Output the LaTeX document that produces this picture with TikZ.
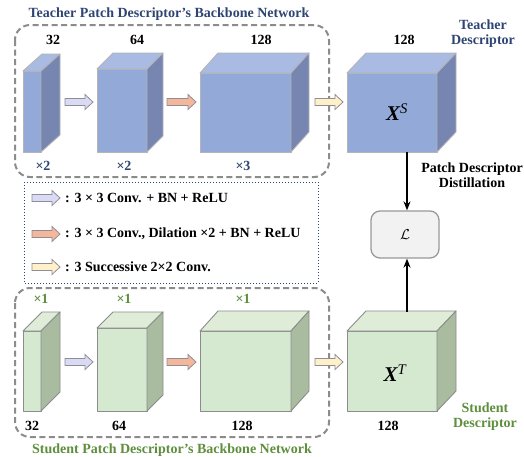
\documentclass[tikz,border=0pt]{standalone}
\usepackage{fontspec}
\setmainfont{Liberation Serif}
\usetikzlibrary{arrows.meta}
\definecolor{tblue}{HTML}{2E4573}
\definecolor{sgreen}{HTML}{5E8F3C}
\definecolor{tfront}{HTML}{93A9D8}
\definecolor{ttop}{HTML}{A9BBE2}
\definecolor{tside}{HTML}{7686B0}
\definecolor{tedge}{HTML}{B4B4B8}
\definecolor{sfront}{HTML}{D5E8D0}
\definecolor{stop}{HTML}{DEECD8}
\definecolor{sside}{HTML}{A9BCA0}
\definecolor{sedge}{HTML}{8C8C8C}
\definecolor{arrA}{HTML}{DADAF5}
\definecolor{arrB}{HTML}{F4B79C}
\definecolor{arrC}{HTML}{FFF0CA}
\definecolor{arrEdge}{HTML}{8E8E96}
\tikzset{
  tfrontsty/.style={fill=tfront,draw=tedge,line width=0.9pt,line join=round},
  ttopsty/.style={fill=ttop,draw=tedge,line width=0.9pt,line join=round},
  tsidesty/.style={fill=tside,draw=tedge,line width=0.9pt,line join=round},
  sfrontsty/.style={fill=sfront,draw=sedge,line width=0.9pt,line join=round},
  stopsty/.style={fill=stop,draw=sedge,line width=0.9pt,line join=round},
  ssidesty/.style={fill=sside,draw=sedge,line width=0.9pt,line join=round},
  arrowA/.style={fill=arrA,draw=arrEdge,line width=0.8pt},
  arrowB/.style={fill=arrB,draw=arrEdge,line width=0.8pt},
  arrowC/.style={fill=arrC,draw=arrEdge,line width=0.8pt},
  lbl/.style={font=\fontsize{14}{16}\selectfont\bfseries, inner sep=0pt},
  tlbl/.style={lbl, text=tblue},
  slbl/.style={lbl, text=sgreen},
  backbone/.style={draw=gray!90, line width=2pt, dash pattern=on 6pt off 3.5pt, rounded corners=15pt},
  legendbox/.style={draw=tblue, line width=1pt, dotted},
  lossbox/.style={draw=gray!80, fill=gray!10, line width=1.3pt, rounded corners=9pt, minimum width=68pt, minimum height=47pt},
  conn/.style={line width=1.8pt, -{Stealth[length=9pt,width=7pt]}}
}
% cube: x, y (top of front face), width, height, dx, dy, prefix
\newcommand\mycube[7]{%
  \filldraw[#7frontsty] (#1,#2) rectangle ++(#3,#4);
  \filldraw[#7topsty] (#1,#2) -- ++(#5,-#6) -- ++(#3,0) -- ++(-#5,#6) -- cycle;
  \filldraw[#7sidesty] (#1+#3,#2) -- ++(#5,-#6) -- ++(0,#4) -- ++(-#5,#6) -- cycle;
}
% block arrow: x1, x2, y, style
\newcommand\blockarr[4]{%
  \filldraw[#4] (#1,#3-3.5) -- (#2-8,#3-3.5) -- (#2-8,#3-7.5) -- (#2,#3) -- (#2-8,#3+7.5) -- (#2-8,#3+3.5) -- (#1,#3+3.5) -- cycle;
}
\begin{document}
\begin{tikzpicture}[x=1pt,y=-1pt]
\useasboundingbox (0,0) rectangle (524,456);
\fill[white] (0,0) rectangle (524,456);

% ---------- Teacher ----------
\draw[backbone] (15,25) rectangle (329,177);
\node[tlbl] (ttitle) at (169,14) {Teacher Patch Descriptor’s Backbone Network};

\mycube{23}{71}{18}{81}{19}{17}{t}
\mycube{97}{69}{50}{83}{16}{16}{t}
\mycube{200}{73}{91}{79}{18}{20}{t}
\mycube{347}{73}{90}{79}{19}{20}{t}
\coordinate (tcube) at (407,152);

\blockarr{65}{93}{102}{arrowA}
\blockarr{167}{196}{102}{arrowB}
\blockarr{315}{343}{102}{arrowC}

\node[lbl] (t32) at (53,40) {32};
\node[lbl] (t64) at (137,40) {64};
\node[lbl] (t128) at (261,40) {128};
\node[lbl] (t128b) at (404,40) {128};
\node[tlbl] (tx1) at (43,166) {×2};
\node[tlbl] (tx2) at (124,166) {×2};
\node[tlbl] (tx3) at (243,166) {×3};
\node[tlbl, align=center] (tdesc) at (483,34) {Teacher\\[-1pt]Descriptor};
\node[inner sep=0pt] (XS) at (397,112) {\fontsize{21}{24}\selectfont\bfseries\itshape X\textsuperscript{\mdseries S}};

% ---------- Legend ----------
\draw[legendbox] (24,182) rectangle (318,283);
\blockarr{32}{60}{198}{arrowA}
\blockarr{32}{60}{234}{arrowB}
\blockarr{32}{60}{267}{arrowC}
\node[lbl, anchor=west] (leg1) at (65,198) {: 3 × 3 Conv. + BN + ReLU};
\node[lbl, anchor=west] (leg2) at (65,234) {: 3 × 3 Conv., Dilation ×2 + BN + ReLU};
\node[lbl, anchor=west] (leg3) at (65,267) {: 3 Successive 2×2 Conv.};

% ---------- Loss ----------
\node[lossbox] (loss) at (405,234.5) {\fontsize{14}{16}\selectfont$\mathcal{L}$};
\node[lbl, align=center] (pdd) at (472,175.5) {Patch Descriptor\\[-1pt]Distillation};

% ---------- Student ----------
\draw[backbone] (15,288) rectangle (329,437);
\node[slbl] (stitle) at (172,450) {Student Patch Descriptor’s Backbone Network};

\mycube{23}{331}{18}{80}{19}{19}{s}
\mycube{97}{328}{50}{83}{16}{16}{s}
\mycube{200}{331}{91}{80}{18}{20}{s}
\mycube{347}{331}{90}{80}{19}{20}{s}
\coordinate (scube) at (407,312);

\blockarr{65}{93}{362}{arrowA}
\blockarr{167}{196}{362}{arrowB}
\blockarr{315}{343}{362}{arrowC}

\node[slbl] (sx1) at (41,299) {×1};
\node[slbl] (sx2) at (124,299) {×1};
\node[slbl] (sx3) at (243,299) {×1};
\node[lbl] (s32) at (32,426) {32};
\node[lbl] (s64) at (119,426) {64};
\node[lbl] (s128) at (242,426) {128};
\node[lbl] (s128b) at (388,426) {128};
\node[slbl, align=center] (sdesc) at (485,417) {Student\\[-1pt]Descriptor};
\node[inner sep=0pt] (XT) at (395,373) {\fontsize{21}{24}\selectfont\bfseries\itshape X\textsuperscript{\mdseries T}};

% ---------- connectors ----------
\draw[conn] (tcube) -- (loss.north -| tcube);
\draw[conn] (scube) -- (loss.south -| scube);
\end{tikzpicture}
\end{document}
